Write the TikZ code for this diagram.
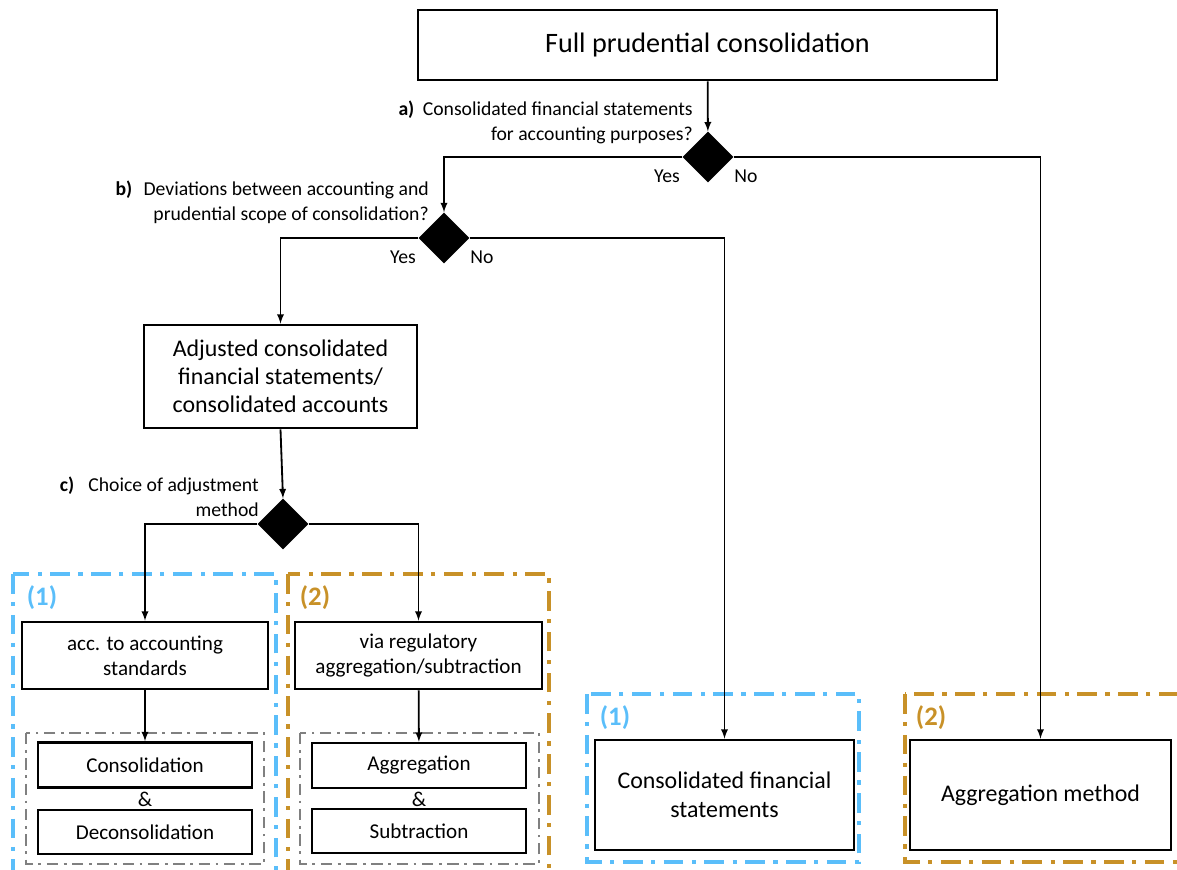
\documentclass[tikz,border=0pt]{standalone}
\usepackage{fontspec}
\setmainfont{Carlito}
\usetikzlibrary{shapes.geometric}
\definecolor{accblue}{RGB}{90,190,250}
\definecolor{reggold}{RGB}{200,145,40}

\begin{document}
\begin{tikzpicture}[x=0.025cm, y=-0.025cm, >=latex,
	box/.style={draw, line width=1.8pt, align=center, inner sep=0pt, font=\fontsize{17}{20}\selectfont},
	smallbox/.style={box, font=\fontsize{15}{18}\selectfont},
	choice/.style={diamond, fill=black, inner sep=0pt, minimum size=1.27cm},
	flow/.style={->, line width=1.3pt},
	lbl/.style={font=\fontsize{14}{18}\selectfont, inner sep=0pt},
	group/.style={line width=2.8pt, dash pattern=on 14pt off 6pt on 3pt off 6pt},
	subgroup/.style={line width=1.5pt, gray, dash pattern=on 8pt off 4pt on 2pt off 4pt},
	num/.style={font=\fontsize{19}{22}\selectfont\bfseries, inner sep=0pt}]
	\clip (0,0) rectangle (1177,869);

	\draw[group, accblue] (13,574) rectangle (276,890);
	\draw[group, reggold] (288,574) rectangle (549,890);
	\draw[group, accblue] (587,694) rectangle (859,862);
	\draw[group, reggold] (905,694) rectangle (1200,862);
	\draw[subgroup] (26,733) rectangle (264,864);
	\draw[subgroup] (300,733) rectangle (539,864);
	\node[num, accblue] (numA) at (42,598) {(1)};
	\node[num, reggold] (numB) at (315,598) {(2)};
	\node[num, accblue] (numC) at (615,718) {(1)};
	\node[num, reggold] (numD) at (931,718) {(2)};

	\node[box, minimum width=14.475cm, minimum height=1.75cm, font=\fontsize{20}{24}\selectfont] (full) at (707.5,45) {Full prudential consolidation};
	\node[choice] (dA) at (708,157) {};
	\node[choice] (dB) at (444,238) {};
	\node[box, minimum width=6.825cm, minimum height=2.575cm] (adj) at (280.5,376.5) {Adjusted consolidated\\financial statements/\\consolidated accounts};
	\node[choice] (dC) at (283,524) {};
	\node[smallbox, minimum width=6.15cm, minimum height=1.675cm] (accstd) at (145,655.5) {acc. to accounting\\standards};
	\node[smallbox, minimum width=6.175cm, minimum height=1.675cm] (via) at (418.5,655.5) {via regulatory\\aggregation/subtraction};
	\node[smallbox, minimum width=5.35cm, minimum height=1.125cm] (cons) at (145,765) {Consolidation};
	\node[lbl, font=\fontsize{15}{18}\selectfont] (ampA) at (145,799) {\&};
	\node[smallbox, minimum width=5.35cm, minimum height=1.1cm] (decons) at (145,832) {Deconsolidation};
	\node[smallbox, minimum width=5.35cm, minimum height=1.125cm] (aggr) at (419,765.5) {Aggregation};
	\node[lbl, font=\fontsize{15}{18}\selectfont] (ampB) at (419,799) {\&};
	\node[smallbox, minimum width=5.35cm, minimum height=1.1cm] (subtr) at (419,831) {Subtraction};
	\node[box, minimum width=6.475cm, minimum height=2.75cm, font=\fontsize{17}{21}\selectfont] (cfs) at (724.5,795) {Consolidated financial\\statements};
	\node[box, minimum width=6.525cm, minimum height=2.75cm] (aggm) at (1040.5,795) {Aggregation method};

	\node[lbl, anchor=east, align=right] (qA) at (693,122.5) {\textbf{a)}\hspace{6pt}Consolidated financial statements\\for accounting purposes?};
	\node[lbl, anchor=east, align=right] (qB) at (429,202.5) {\textbf{b)}\hspace{8pt}Deviations between accounting and\\prudential scope of consolidation?};
	\node[lbl, anchor=east, align=right] (qC) at (259,497) {\textbf{c)}\hspace{10pt}Choice of adjustment\\method};
	\node[lbl] (yesA) at (667,176) {Yes};
	\node[lbl] (noA) at (746,176) {No};
	\node[lbl] (yesB) at (403,257) {Yes};
	\node[lbl] (noB) at (482,257) {No};

	\draw[flow] (full) -- (dA);
	\draw[flow] (dA.west) -| (dB.north);
	\draw[flow] (dA.east) -| (aggm.north);
	\draw[flow] (dB.west) -| (adj.north);
	\draw[flow] (dB.east) -| (cfs.north);
	\draw[flow] (adj.south) -- (dC.north);
	\draw[flow] (dC.west) -| (accstd.north);
	\draw[flow] (dC.east) -| (via.north);
	\draw[flow] (accstd) -- (cons);
	\draw[flow] (via) -- (aggr);
\end{tikzpicture}
\end{document}
